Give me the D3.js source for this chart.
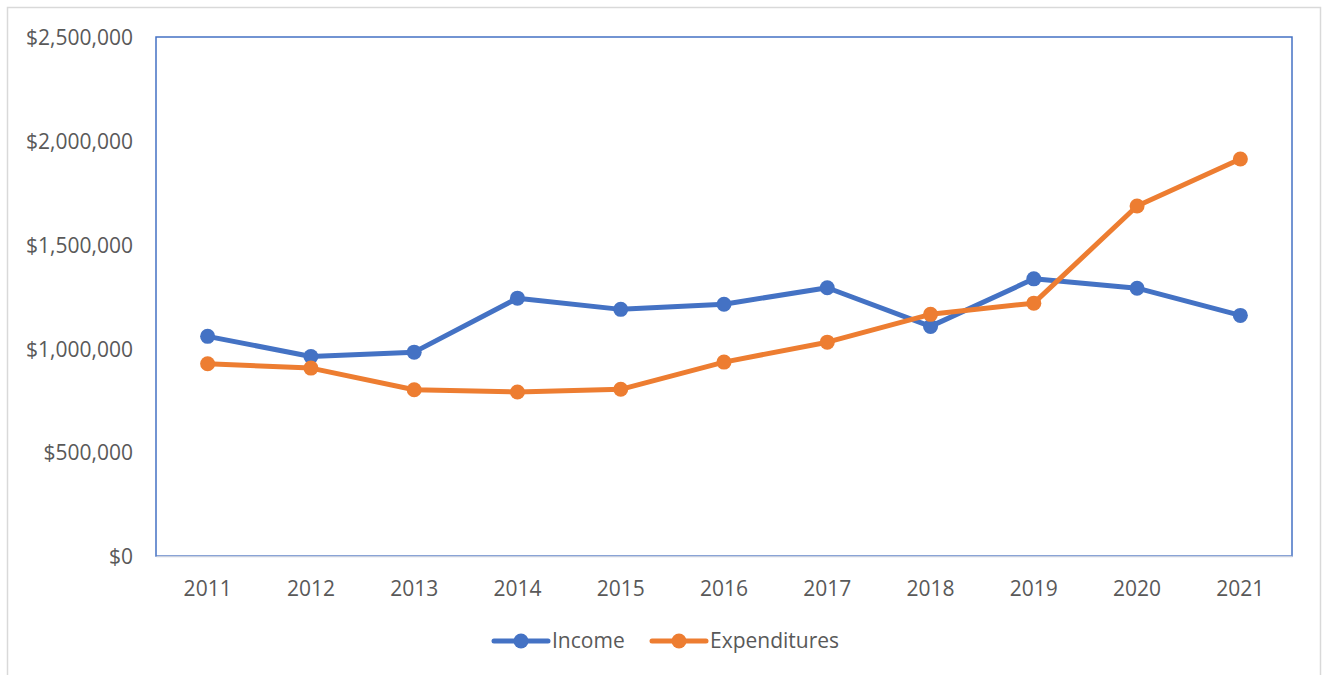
<!DOCTYPE html>
<html>
<head>
<meta charset="utf-8">
<script src="https://cdn.jsdelivr.net/npm/d3@7"></script>
<style>
  html, body { margin: 0; padding: 0; background: #fff; }
  svg { display: block; }
  text { font-family: "Open Sans", "Liberation Sans", sans-serif; fill: #595959; }
</style>
</head>
<body>
<svg id="chart" width="1323" height="675"></svg>
<script>
const years = ["2011","2012","2013","2014","2015","2016","2017","2018","2019","2020","2021"];
const income = [1058000, 961000, 982000, 1242000, 1188000, 1213000, 1292000, 1106000, 1335000, 1290000, 1159000];
const expenditures = [926000, 905000, 801000, 790000, 803000, 934000, 1030000, 1164000, 1218000, 1686000, 1912000];
const yTicks = [0, 500000, 1000000, 1500000, 2000000, 2500000];
const seriesNames = ["Income", "Expenditures"];
const seriesColors = ["#4472C4", "#ED7D31"];

const svg = d3.select("#chart");
const plot = { left: 156, right: 1292, top: 37, bottom: 556 };
const FS = 21;
const FF = "'Open Sans', 'Liberation Sans', sans-serif";

// outer chart border
svg.append("rect")
  .attr("x", 7.5).attr("y", 7.5)
  .attr("width", 1313).attr("height", 700)
  .attr("fill", "#fff").attr("stroke", "#d9d9d9").attr("stroke-width", 1.5);

const x = d3.scaleBand().domain(years).range([plot.left, plot.right]);
const y = d3.scaleLinear().domain([0, 2500000]).range([plot.bottom, plot.top]);

// plot frame (blue)
svg.append("rect")
  .attr("x", plot.left).attr("y", plot.top)
  .attr("width", plot.right - plot.left).attr("height", plot.bottom - plot.top)
  .attr("fill", "none").attr("stroke", "#4472C4").attr("stroke-width", 1.5);

// y axis labels
const fmt = v => "$" + d3.format(",")(v);
const yAxis = d3.axisLeft(y).tickValues(yTicks).tickFormat(fmt).tickSize(0).tickPadding(23);
const gy = svg.append("g").attr("transform", `translate(${plot.left},1)`).call(yAxis);
gy.attr("font-size", FS).attr("font-family", FF);
gy.select(".domain").remove();
gy.selectAll("text").attr("font-size", FS).attr("fill", "#595959").attr("font-family", FF);

// x axis
const xAxis = d3.axisBottom(x).tickSize(0).tickPadding(25);
const gx = svg.append("g").attr("transform", `translate(0,${plot.bottom})`).call(xAxis);
gx.attr("font-size", FS).attr("font-family", FF);
gx.select(".domain").attr("stroke", "#c9d0df").attr("stroke-width", 1.5);
gx.selectAll("text").attr("font-size", FS).attr("fill", "#595959").attr("font-family", FF);

// lines
const data = [income, expenditures];
const line = d3.line().x((d, i) => x(years[i]) + x.bandwidth() / 2).y(d => y(d));
data.forEach((vals, s) => {
  svg.append("path").datum(vals)
    .attr("d", line).attr("fill", "none")
    .attr("stroke", seriesColors[s]).attr("stroke-width", 5)
    .attr("stroke-linejoin", "round").attr("stroke-linecap", "round");
  svg.append("g").selectAll("circle").data(vals).join("circle")
    .attr("cx", (d, i) => x(years[i]) + x.bandwidth() / 2)
    .attr("cy", d => y(d)).attr("r", 7.5)
    .attr("fill", seriesColors[s]);
});

// legend
const legendItems = [
  { x0: 494, name: seriesNames[0], color: seriesColors[0] },
  { x0: 652, name: seriesNames[1], color: seriesColors[1] }
];
const ly = 641;
legendItems.forEach(it => {
  const g = svg.append("g");
  g.append("line").attr("x1", it.x0).attr("x2", it.x0 + 54).attr("y1", ly).attr("y2", ly)
    .attr("stroke", it.color).attr("stroke-width", 5).attr("stroke-linecap", "round");
  g.append("circle").attr("cx", it.x0 + 27).attr("cy", ly).attr("r", 7.5).attr("fill", it.color);
  g.append("text").attr("x", it.x0 + 58).attr("y", ly).attr("dy", "0.35em")
    .attr("font-size", FS).attr("font-family", FF).text(it.name);
});
</script>
</body>
</html>
